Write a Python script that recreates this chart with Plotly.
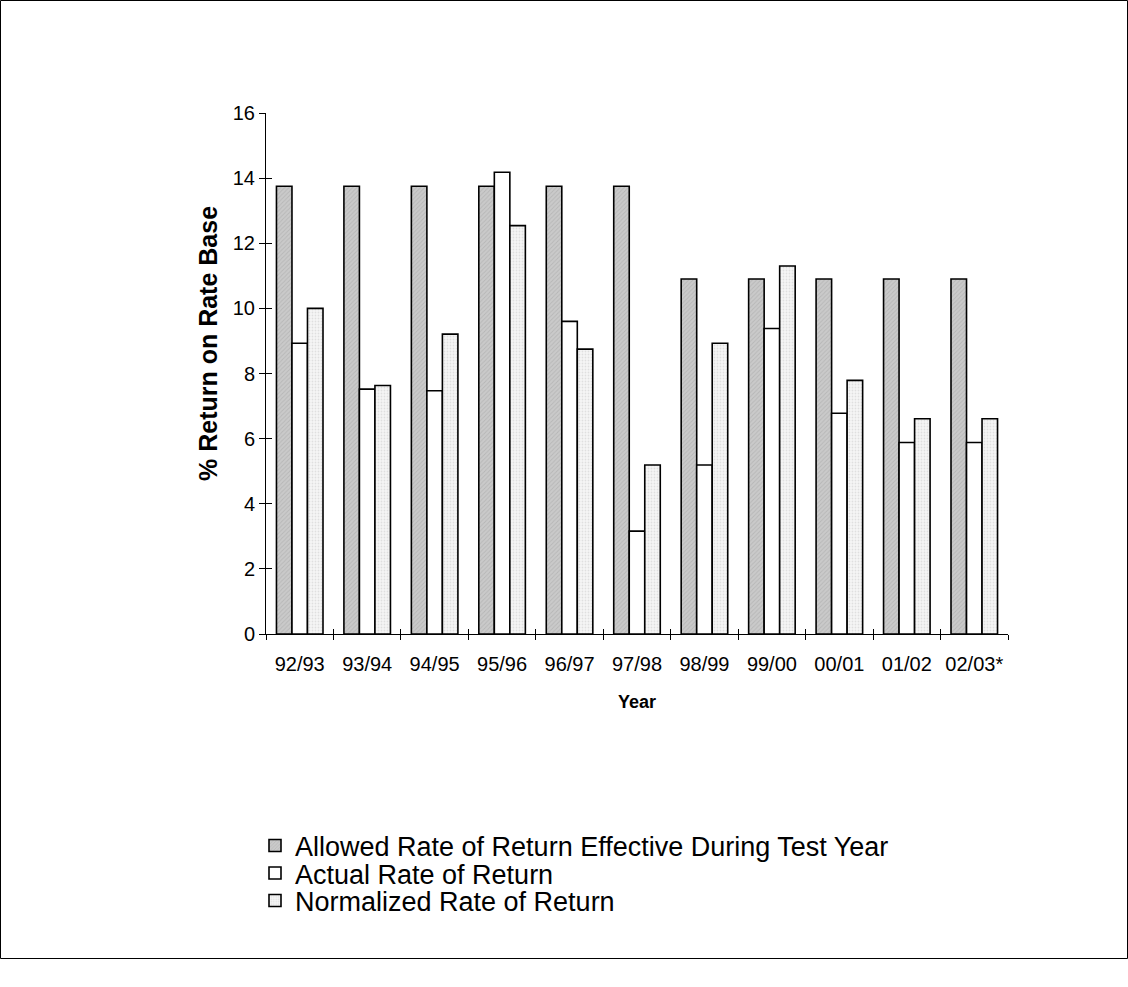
import plotly.graph_objects as go

# Fiscal years shown on the category axis
years = ["92/93", "93/94", "94/95", "95/96", "96/97", "97/98",
         "98/99", "99/00", "00/01", "01/02", "02/03*"]

# Rates of return (%)
allowed = [13.75, 13.75, 13.75, 13.75, 13.75, 13.75,
           10.9, 10.9, 10.9, 10.9, 10.9]
actual = [8.93, 7.52, 7.47, 14.18, 9.60, 3.16,
          5.19, 9.38, 6.78, 5.88, 5.88]
normalized = [10.0, 7.63, 9.21, 12.54, 8.75, 5.19,
              8.93, 11.30, 7.79, 6.61, 6.61]

y_ticks = [0, 2, 4, 6, 8, 10, 12, 14, 16]

W, H = 1128, 987
L, R, T, B = 266, 1008, 113, 634   # plot area in pixels
pw, ph = R - L, B - T


def px_x(x):
    return (x - L) / pw


def px_y(y):
    return (B - y) / ph


FONT = "Liberation Sans, Arial, sans-serif"
OUTLINE = dict(color="black", width=1.6)
LEGEND_FONT = dict(family=FONT, size=27, color="black")


def legend_box(center_y):
    return dict(x=px_x(255), y=px_y(center_y), xanchor="left", yanchor="middle",
                font=LEGEND_FONT, bgcolor="rgba(0,0,0,0)", itemwidth=30)


fig = go.Figure()

fig.add_trace(go.Bar(
    name="Allowed Rate of Return Effective During Test Year",
    x=years, y=allowed, legend="legend",
    marker=dict(color="#c6c6c6", line=OUTLINE,
                pattern=dict(shape="/", bgcolor="#cacaca", fgcolor="#a4a4a4",
                             size=3, solidity=0.3)),
))
fig.add_trace(go.Bar(
    name="Actual Rate of Return",
    x=years, y=actual, legend="legend2",
    marker=dict(color="white", line=OUTLINE),
))
fig.add_trace(go.Bar(
    name="Normalized Rate of Return",
    x=years, y=normalized, legend="legend3",
    marker=dict(color="#f3f3f3", line=OUTLINE,
                pattern=dict(shape=".", bgcolor="#f6f6f6", fgcolor="#c8c8c8",
                             size=3, solidity=0.3)),
))

# Invisible carrier so the overlay axis gets the same categories (inner tick halves)
fig.add_trace(go.Scatter(x=years, y=[None] * len(years), xaxis="x2", yaxis="y2",
                         mode="markers", showlegend=False, hoverinfo="skip"))

cat_range = [-0.5, len(years) - 0.5]

fig.update_layout(
    width=W, height=H,
    margin=dict(l=L, r=W - R, t=T, b=H - B),
    paper_bgcolor="white", plot_bgcolor="white",
    barmode="group", bargap=0.31, bargroupgap=0,
    font=dict(family=FONT, color="black", size=20),
    showlegend=True,
    legend=legend_box(846),
    legend2=legend_box(873.5),
    legend3=legend_box(901),
    xaxis=dict(
        type="category", categoryorder="array", categoryarray=years,
        range=cat_range, autorange=False,
        tickson="boundaries", ticks="outside", ticklen=5, tickwidth=1,
        tickcolor="black", showline=True, linecolor="black", linewidth=1,
        showgrid=False, zeroline=False, ticklabelstandoff=12, tickangle=0,
        tickfont=dict(family=FONT, size=20),
    ),
    xaxis2=dict(
        type="category", categoryorder="array", categoryarray=years,
        range=cat_range, autorange=False,
        overlaying="x", tickson="boundaries", ticks="inside",
        ticklen=5, tickwidth=1, tickcolor="black", showticklabels=False,
        showline=False, showgrid=False, zeroline=False,
    ),
    yaxis=dict(
        range=[0, 16], tickvals=y_ticks, ticks="outside", ticklen=6,
        tickwidth=1, tickcolor="black", showline=True, linecolor="black",
        linewidth=1, showgrid=False, zeroline=False,
        tickfont=dict(family=FONT, size=20),
    ),
    yaxis2=dict(
        range=[0, 16], tickvals=y_ticks, overlaying="y", side="left",
        ticks="inside", ticklen=6, tickwidth=1, tickcolor="black",
        showticklabels=False, showline=False, showgrid=False, zeroline=False,
    ),
    annotations=[
        dict(text="<b>% Return on Rate Base</b>", textangle=-90,
             xref="paper", yref="paper", x=px_x(208), y=px_y(344),
             xanchor="center", yanchor="middle", showarrow=False,
             font=dict(family=FONT, size=25)),
        dict(text="<b>Year</b>", xref="paper", yref="paper",
             x=0.5, y=px_y(702), xanchor="center", yanchor="middle",
             showarrow=False, font=dict(family=FONT, size=18)),
    ],
    shapes=[
        dict(type="rect", xref="paper", yref="paper",
             x0=px_x(0.5), x1=px_x(1127.5), y0=px_y(0.5), y1=px_y(958.5),
             line=dict(color="black", width=1), fillcolor="rgba(0,0,0,0)",
             layer="below"),
    ],
)

fig.write_html("out.html")
